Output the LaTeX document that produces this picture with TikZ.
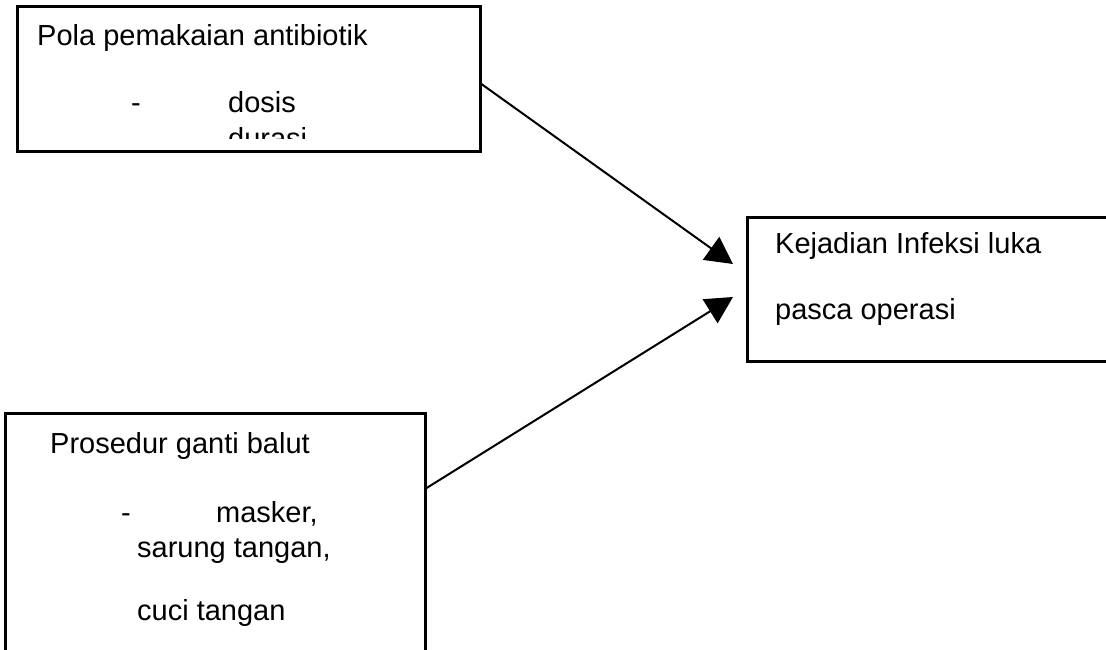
\documentclass[tikz,border=0pt]{standalone}
\usepackage{fontspec}
\setmainfont{Liberation Sans}
\usetikzlibrary{arrows.meta}
\begin{document}
\begin{tikzpicture}[x=1pt,y=-1pt,
  box/.style={draw,line width=3pt,rectangle,inner sep=0pt},
  lbl/.style={anchor=base west,inner sep=0pt,font=\fontsize{29}{34}\selectfont},
  conn/.style={line width=2pt,-{Triangle[length=27pt,width=28pt]}}]
\useasboundingbox (0,0) rectangle (1106,649);
\clip (0,0) rectangle (1106,649);
% boxes
\node[box,minimum width=463pt,minimum height=145pt] (pola) at (248.5,78.5) {};
\node[box,minimum width=383pt,minimum height=144pt] (kej) at (938.5,289) {};
\node[box,minimum width=420pt,minimum height=257pt] (pros) at (215,541.5) {};
% texts of top box
\node[lbl] (t1) at (37,45) {Pola pemakaian antibiotik};
\node[lbl] (t1d) at (131,112) {-};
\node[lbl] (t1a) at (228,112) {dosis};
\begin{scope}
  \clip (17,6) rectangle (480,138);
  \node[lbl] (t1b) at (228,148) {durasi};
\end{scope}
% texts of right box
\node[lbl] (t2) at (775,253) {Kejadian Infeksi luka};
\node[lbl] (t2b) at (775,319) {pasca operasi};
% texts of bottom box
\node[lbl] (t3) at (50,453) {Prosedur ganti balut};
\node[lbl] (t3d) at (121,522) {-};
\node[lbl] (t3a) at (216,522) {masker,};
\node[lbl] (t3b) at (137,557) {sarung tangan,};
\node[lbl] (t3c) at (137,620) {cuci tangan};
% connectors
\coordinate (a1s) at (480,83);
\coordinate (a1e) at (733,264);
\coordinate (a2s) at (425,489);
\coordinate (a2e) at (733,297);
\draw[conn] (a1s) -- (a1e);
\draw[conn] (a2s) -- (a2e);
\end{tikzpicture}
\end{document}
